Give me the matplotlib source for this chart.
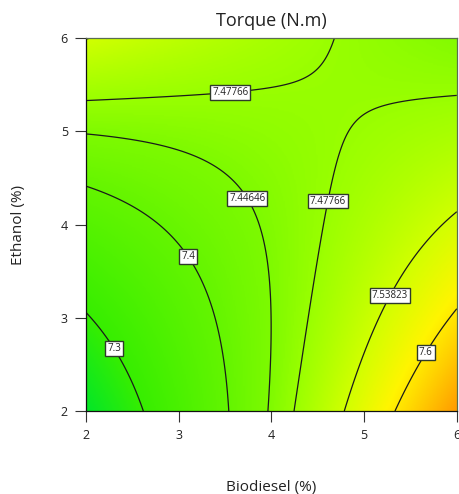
import matplotlib
matplotlib.use("Agg")
import matplotlib.pyplot as plt
import numpy as np
from matplotlib.colors import LinearSegmentedColormap

plt.rcParams['font.family'] = ['Open Sans', 'DejaVu Sans']

# quadratic model in coded units: A = (biodiesel - 4) / 2, B = (ethanol - 4) / 2
terms = ["Intercept", "A", "B", "AB", "A^2", "B^2"]
coefs = [7.4523, 0.0890, 0.0206, -0.1321, 0.0045, 0.0189]

levels = [7.3, 7.4, 7.44646, 7.47766, 7.53823, 7.6]
level_text = ["7.3", "7.4", "7.44646", "7.47766", "7.53823", "7.6"]
label_spots = [(2.35, 2.70), (3.14, 3.68), (3.79, 4.31), (3.55, 5.51),
               (4.62, 4.25), (5.25, 3.25), (5.62, 2.65)]

biodiesel_range = (2, 6)
ethanol_range = (2, 6)

# colour ramp stops (torque value -> rgb)
ramp_values = [7.23, 7.30, 7.40, 7.446, 7.48, 7.54, 7.59, 7.68]
ramp_colors = ["#00e62a", "#37ee00", "#64f500", "#7dfa00",
               "#9bff00", "#d2ff00", "#fff500", "#ff9800"]


def torque(x, y):
    a = (x - 4) / 2
    b = (y - 4) / 2
    b0, b1, b2, b12, b11, b22 = coefs
    return b0 + b1 * a + b2 * b + b12 * a * b + b11 * a ** 2 + b22 * b ** 2


x = np.linspace(*biodiesel_range, 300)
y = np.linspace(*ethanol_range, 300)
X, Y = np.meshgrid(x, y)
Z = torque(X, Y)

vmin, vmax = ramp_values[0], ramp_values[-1]
stops = [(v - vmin) / (vmax - vmin) for v in ramp_values]
cmap = LinearSegmentedColormap.from_list("torque", list(zip(stops, ramp_colors)))

fig = plt.figure(figsize=(4.6, 4.94), dpi=100)
ax = fig.add_axes([0.187, 0.168, 0.806, 0.755])

ax.imshow(Z, origin="lower", extent=(*biodiesel_range, *ethanol_range),
          cmap=cmap, vmin=vmin, vmax=vmax, aspect="auto", interpolation="bilinear")
cs = ax.contour(X, Y, Z, levels=levels, colors="#1a1a1a", linewidths=0.9)
labels = ax.clabel(cs, fmt=dict(zip(levels, level_text)), fontsize=7,
                   inline=False, manual=label_spots)
for t in labels:
    t.set_rotation(0)
    t.set_color("#222222")
    t.set_bbox(dict(boxstyle="square,pad=0.2", fc="white", ec="#2e3a2a", lw=1.0))

ax.set_xlim(*biodiesel_range)
ax.set_ylim(*ethanol_range)
ax.set_xticks([2, 3, 4, 5, 6])
ax.set_yticks([2, 3, 4, 5, 6])
ax.tick_params(length=8, width=0.8, color="#333333", labelsize=9, pad=5, labelcolor="#222222")
for s in ax.spines.values():
    s.set_color("#5a6e50")
    s.set_linewidth(0.9)
ax.spines["bottom"].set_color("#111111")
ax.spines["left"].set_color("#111111")

ax.set_title("Torque (N.m)", fontsize=13, color="#222222", pad=9)
ax.set_xlabel("Biodiesel (%)", fontsize=11, color="#222222", labelpad=27)
ax.set_ylabel("Ethanol (%)", fontsize=11, color="#222222", labelpad=25)

fig.savefig("out.png", dpi=100)
